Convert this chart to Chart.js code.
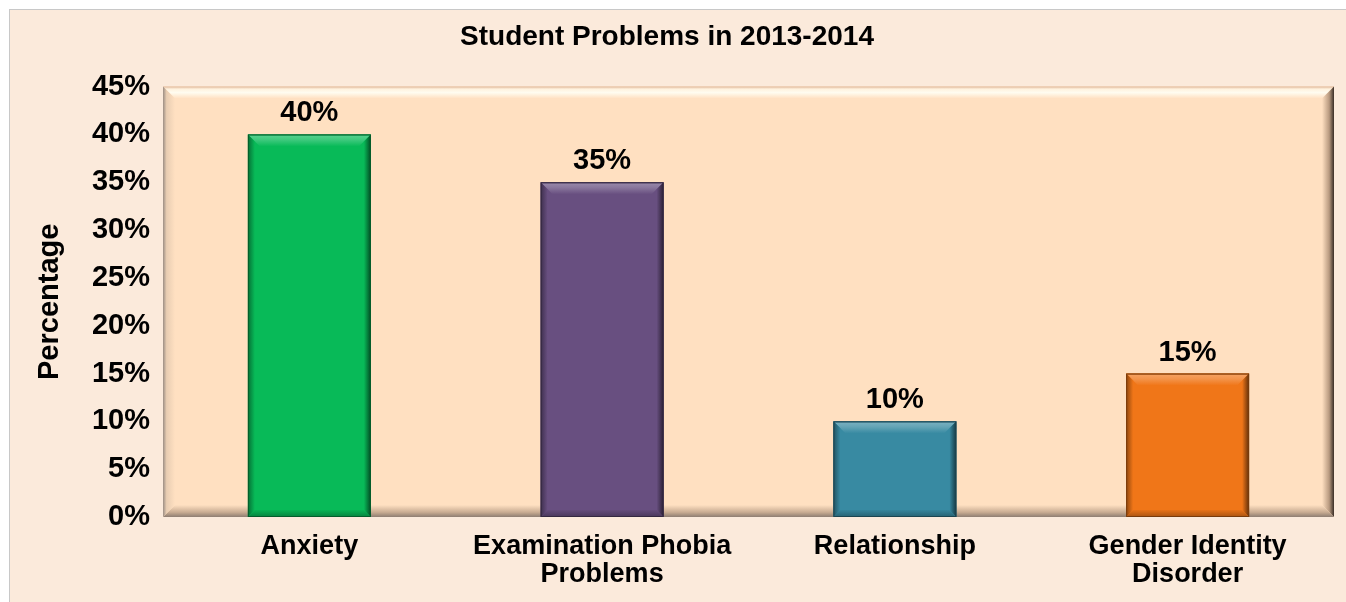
<!DOCTYPE html>
<html>
<head>
<meta charset="utf-8">
<script src="https://cdn.jsdelivr.net/npm/chart.js@4.4.0/dist/chart.umd.min.js"></script>
<style>
  html, body { margin: 0; padding: 0; background: #ffffff; }
  #wrap { width: 1346px; height: 602px; }
</style>
</head>
<body>
<div id="wrap"><canvas id="mycanvas" width="1346" height="602"></canvas></div>
<script>
var problems = [["Anxiety"], ["Examination Phobia", "Problems"], ["Relationship"], ["Gender Identity", "Disorder"]];
var percentages = [40, 35, 10, 15];
var yTicks = [0, 5, 10, 15, 20, 25, 30, 35, 40, 45];
var barColors = ["#08BA58", "#684F80", "#388AA2", "#F07618"];

function shade(hex, amt) {
	var n = parseInt(hex.slice(1), 16);
	var r = (n >> 16) & 255, g = (n >> 8) & 255, b = n & 255;
	function f(c) {
		return Math.max(0, Math.min(255, Math.round(amt > 0 ? c + (255 - c) * amt : c * (1 + amt))));
	}
	return "rgb(" + f(r) + "," + f(g) + "," + f(b) + ")";
}

// outer frame + bevelled plot area
var backdrop = {
	id: "backdrop",
	beforeDraw: function(chart) {
		var ctx = chart.ctx, a = chart.chartArea;
		ctx.save();
		ctx.fillStyle = "#FBEADB";
		ctx.fillRect(9, 9, chart.width, chart.height);
		ctx.strokeStyle = "#C8C8C8";
		ctx.lineWidth = 1;
		ctx.strokeRect(9.5, 9.5, chart.width + 10, chart.height + 10);

		var w = a.right - a.left, h = a.bottom - a.top;
		ctx.fillStyle = "#FFE0C1";
		ctx.fillRect(a.left, a.top, w, h);
		var b = 12;
		// top highlight
		var g = ctx.createLinearGradient(0, a.top, 0, a.top + b);
		g.addColorStop(0, "#E0B89A");
		g.addColorStop(0.2, "#FFF2DE");
		g.addColorStop(0.5, "#FFFCF0");
		g.addColorStop(1, "#FFE0C1");
		ctx.fillStyle = g;
		ctx.beginPath();
		ctx.moveTo(a.left, a.top); ctx.lineTo(a.right, a.top);
		ctx.lineTo(a.right - b, a.top + b); ctx.lineTo(a.left + b, a.top + b);
		ctx.closePath(); ctx.fill();
		// right dark edge
		g = ctx.createLinearGradient(a.right - b, 0, a.right, 0);
		g.addColorStop(0, "#FFE0C1");
		g.addColorStop(0.6, "#B89A80");
		g.addColorStop(1, "#3A2E26");
		ctx.fillStyle = g;
		ctx.beginPath();
		ctx.moveTo(a.right, a.top); ctx.lineTo(a.right, a.bottom);
		ctx.lineTo(a.right - b, a.bottom - b); ctx.lineTo(a.right - b, a.top + b);
		ctx.closePath(); ctx.fill();
		// bottom shadow
		g = ctx.createLinearGradient(0, a.bottom - b, 0, a.bottom);
		g.addColorStop(0, "#FFE0C1");
		g.addColorStop(0.6, "#C9AC92");
		g.addColorStop(1, "#8E7E72");
		ctx.fillStyle = g;
		ctx.beginPath();
		ctx.moveTo(a.left, a.bottom); ctx.lineTo(a.right, a.bottom);
		ctx.lineTo(a.right - b, a.bottom - b); ctx.lineTo(a.left + b, a.bottom - b);
		ctx.closePath(); ctx.fill();
		// left edge
		g = ctx.createLinearGradient(a.left, 0, a.left + b, 0);
		g.addColorStop(0, "#9C8E84");
		g.addColorStop(0.3, "#E8CDB2");
		g.addColorStop(1, "#FFE0C1");
		ctx.fillStyle = g;
		ctx.beginPath();
		ctx.moveTo(a.left, a.top); ctx.lineTo(a.left, a.bottom);
		ctx.lineTo(a.left + b, a.bottom - b); ctx.lineTo(a.left + b, a.top + b);
		ctx.closePath(); ctx.fill();
		ctx.restore();
	}
};

// bevel on bars + value labels
var barBevel = {
	id: "barBevel",
	afterDatasetsDraw: function(chart) {
		var ctx = chart.ctx;
		var meta = chart.getDatasetMeta(0);
		ctx.save();
		meta.data.forEach(function(bar, i) {
			var left = bar.x - bar.width / 2, right = bar.x + bar.width / 2;
			var top = bar.y, bottom = bar.base, b = 12;
			var col = barColors[i];
			// top bevel
			var g = ctx.createLinearGradient(0, top, 0, top + b);
			g.addColorStop(0, shade(col, -0.2));
			g.addColorStop(0.15, shade(col, 0.3));
			g.addColorStop(0.45, shade(col, 0.22));
			g.addColorStop(1, col);
			ctx.fillStyle = g;
			ctx.beginPath();
			ctx.moveTo(left, top); ctx.lineTo(right, top);
			ctx.lineTo(right - b, top + b); ctx.lineTo(left + b, top + b);
			ctx.closePath(); ctx.fill();
			// right edge
			g = ctx.createLinearGradient(right - 7, 0, right, 0);
			g.addColorStop(0, col);
			g.addColorStop(1, shade(col, -0.6));
			ctx.fillStyle = g;
			ctx.beginPath();
			ctx.moveTo(right, top); ctx.lineTo(right, bottom);
			ctx.lineTo(right - 7, bottom - 7); ctx.lineTo(right - 7, top + 7);
			ctx.closePath(); ctx.fill();
			// left edge
			g = ctx.createLinearGradient(left, 0, left + 7, 0);
			g.addColorStop(0, shade(col, -0.4));
			g.addColorStop(1, col);
			ctx.fillStyle = g;
			ctx.beginPath();
			ctx.moveTo(left, top); ctx.lineTo(left, bottom);
			ctx.lineTo(left + 7, bottom - 7); ctx.lineTo(left + 7, top + 7);
			ctx.closePath(); ctx.fill();
			// bottom edge
			g = ctx.createLinearGradient(0, bottom - 8, 0, bottom);
			g.addColorStop(0, col);
			g.addColorStop(1, shade(col, -0.3));
			ctx.fillStyle = g;
			ctx.beginPath();
			ctx.moveTo(left + 7, bottom - 7); ctx.lineTo(right - 7, bottom - 7);
			ctx.lineTo(right, bottom); ctx.lineTo(left, bottom);
			ctx.closePath(); ctx.fill();
			ctx.strokeStyle = shade(col, -0.5);
			ctx.lineWidth = 1;
			ctx.strokeRect(left + 0.5, top + 0.5, bar.width - 1, bottom - top - 1);

			ctx.fillStyle = "#000000";
			ctx.font = "bold 29px 'Liberation Sans', Arial, sans-serif";
			ctx.textAlign = "center";
			ctx.textBaseline = "middle";
			ctx.fillText(percentages[i] + "%", bar.x, top - 21);
		});
		ctx.restore();
	}
};

var ctx = document.getElementById("mycanvas");

var chartdata = {
	labels: problems,
	datasets: [
		{
			label: "Percentage",
			data: percentages,
			backgroundColor: barColors,
			borderColor: "rgba(0,0,0,0)",
			borderWidth: 0,
			categoryPercentage: 1.0,
			barPercentage: 0.42
		}
	]
};

var StudentChart = new Chart(ctx, {
	type: "bar",
	data: chartdata,
	plugins: [backdrop, barBevel],
	options: {
		responsive: false,
		animation: false,
		layout: { padding: { left: 0, top: 0, right: 12, bottom: 0 } },
		plugins: {
			legend: { display: false },
			tooltip: { enabled: false },
			title: {
				display: true,
				text: "Student Problems in 2013-2014",
				color: "#000000",
				font: { family: "'Liberation Sans', Arial, sans-serif", size: 28, weight: "bold", lineHeight: 1.2 },
				padding: { top: 20, bottom: 33 }
			}
		},
		scales: {
			x: {
				grid: { display: false, drawTicks: false },
				border: { display: false },
				ticks: {
					color: "#000000",
					padding: 15,
					maxRotation: 0,
					autoSkip: false,
					font: { family: "'Liberation Sans', Arial, sans-serif", size: 27, weight: "bold", lineHeight: 1.05 }
				},
				afterFit: function(scale) { scale.height = 85; }
			},
			y: {
				min: 0,
				max: 45,
				afterBuildTicks: function(scale) {
					scale.ticks = yTicks.map(function(v) { return { value: v }; });
				},
				grid: { display: false, drawTicks: false },
				border: { display: false },
				ticks: {
					color: "#000000",
					padding: 13,
					callback: function(v) { return v + "%"; },
					font: { family: "'Liberation Sans', Arial, sans-serif", size: 29, weight: "bold" }
				},
				title: {
					display: true,
					text: "Percentage",
					color: "#000000",
					padding: { top: 33, bottom: 0 },
					font: { family: "'Liberation Sans', Arial, sans-serif", size: 29, weight: "bold", lineHeight: 1.2 }
				},
				afterFit: function(scale) { scale.width = 163; }
			}
		}
	}
});
</script>
</body>
</html>
